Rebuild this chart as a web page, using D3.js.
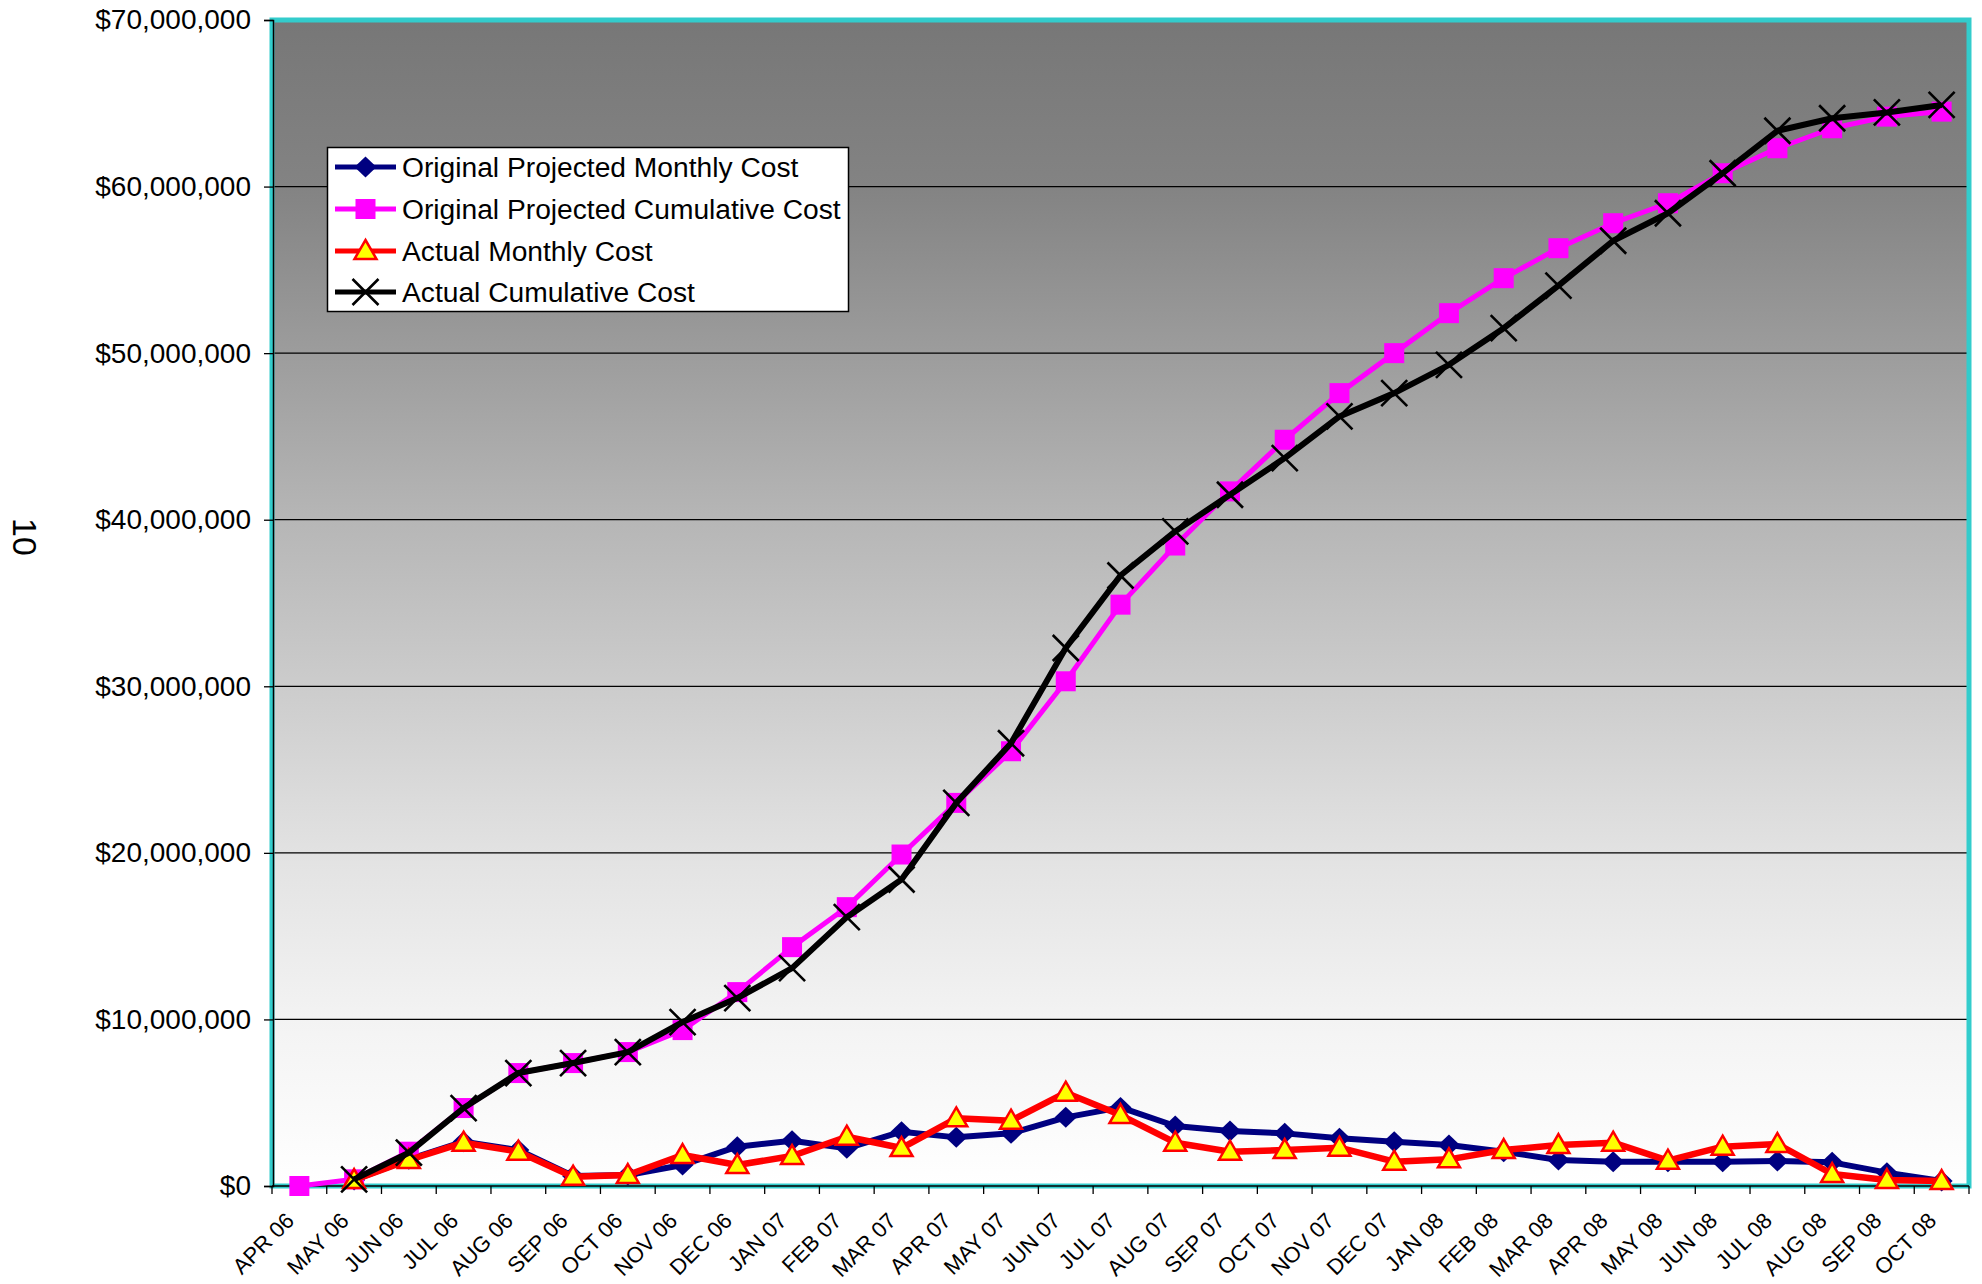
<!DOCTYPE html>
<html>
<head>
<meta charset="utf-8">
<script src="https://cdn.jsdelivr.net/npm/d3@7"></script>
<style>
  html, body { margin: 0; padding: 0; background: #ffffff; }
  svg { display: block; font-family: "Liberation Sans", Arial, Helvetica, sans-serif; }
</style>
</head>
<body>
<svg id="chart" width="1982" height="1284"></svg>
<script>
// ---- Data (values in US dollars, millions) ----
const months = ["APR 06","MAY 06","JUN 06","JUL 06","AUG 06","SEP 06","OCT 06","NOV 06","DEC 06",
  "JAN 07","FEB 07","MAR 07","APR 07","MAY 07","JUN 07","JUL 07","AUG 07","SEP 07","OCT 07","NOV 07","DEC 07",
  "JAN 08","FEB 08","MAR 08","APR 08","MAY 08","JUN 08","JUL 08","AUG 08","SEP 08","OCT 08"];

const projectedMonthly = [null, 0.36, 1.6, 2.66, 2.16, 0.6, 0.66, 1.26, 2.36, 2.72, 2.26, 3.26, 2.92, 3.16, 4.12,
  4.72, 3.6, 3.3, 3.16, 2.86, 2.66, 2.46, 2.06, 1.56, 1.46, 1.46, 1.46, 1.5, 1.42, 0.8, 0.3];

const projectedCumulative = [0, 0.4, 2.06, 4.68, 6.78, 7.38, 8.04, 9.36, 11.64, 14.34, 16.74, 19.9, 23.0, 26.1, 30.3,
  34.9, 38.45, 41.7, 44.8, 47.6, 50.0, 52.4, 54.5, 56.3, 57.8, 59.0, 60.8, 62.3, 63.5, 64.2, 64.5];

const actualMonthly = [null, 0.36, 1.56, 2.6, 2.06, 0.56, 0.66, 1.86, 1.26, 1.8, 2.96, 2.28, 4.06, 3.92, 5.6,
  4.26, 2.6, 2.06, 2.16, 2.3, 1.46, 1.6, 2.16, 2.46, 2.6, 1.52, 2.36, 2.52, 0.72, 0.36, 0.3];

const actualCumulative = [null, 0.4, 2.0, 4.68, 6.78, 7.38, 8.04, 9.84, 11.28, 13.08, 16.14, 18.4, 23.0, 26.58, 32.3,
  36.65, 39.3, 41.5, 43.7, 46.2, 47.6, 49.3, 51.5, 54.05, 56.75, 58.4, 60.8, 63.35, 64.1, 64.45, 64.9];

const yTickValues = [0, 10e6, 20e6, 30e6, 40e6, 50e6, 60e6, 70e6];
const seriesNames = ["Original Projected Monthly Cost", "Original Projected Cumulative Cost",
  "Actual Monthly Cost", "Actual Cumulative Cost"];
const sideLabel = "10";

// ---- Layout ----
const svg = d3.select("#chart");
const L = 272, R = 1969, T = 20, B = 1186;

const x = d3.scaleBand().domain(months).range([L, R]).padding(0);
const cx = m => x(m) + x.bandwidth() / 2;
const y = d3.scaleLinear().domain([0, 70e6]).range([B, T]);

const toSeries = arr => months.map((m, i) => ({ m, v: arr[i] == null ? null : arr[i] * 1e6 }));

// gradient background
const defs = svg.append("defs");
const grad = defs.append("linearGradient").attr("id", "bg").attr("x1", 0).attr("y1", 0).attr("x2", 0).attr("y2", 1);
[["0%", "#777777"], ["14.3%", "#838383"], ["42.9%", "#b6b6b6"], ["71.4%", "#e2e2e2"],
 ["85.7%", "#f3f3f3"], ["100%", "#ffffff"]].forEach(([o, c]) =>
  grad.append("stop").attr("offset", o).attr("stop-color", c));

svg.append("rect").attr("x", L).attr("y", T).attr("width", R - L).attr("height", B - T)
  .attr("fill", "url(#bg)");

// gridlines
svg.append("g").selectAll("line").data(yTickValues.filter(v => v > 0 && v < 70e6)).join("line")
  .attr("x1", L).attr("x2", R).attr("y1", d => y(d)).attr("y2", d => y(d))
  .attr("stroke", "#000").attr("stroke-width", 1.2);

// plot border (cyan)
svg.append("rect").attr("x", L).attr("y", T).attr("width", R - L).attr("height", B - T)
  .attr("fill", "none").attr("stroke", "#33CCCC").attr("stroke-width", 5);

// y axis
const yAxis = d3.axisLeft(y).tickValues(yTickValues).tickFormat(d3.format("$,")).tickSize(9).tickPadding(13);
const gy = svg.append("g").attr("transform", `translate(${L + 1},0)`).call(yAxis);
gy.select(".domain").attr("stroke", "#000").attr("stroke-width", 1.5);
gy.selectAll(".tick line").attr("stroke", "#000").attr("stroke-width", 1.3);
gy.selectAll(".tick text").attr("font-size", 28).attr("fill", "#000")
  .attr("font-family", "'Liberation Sans', Arial, sans-serif");

// x axis line and ticks at band boundaries
svg.append("line").attr("x1", L).attr("x2", R).attr("y1", B).attr("y2", B)
  .attr("stroke", "#000").attr("stroke-width", 1.5);
const boundaries = months.map(m => x(m)).concat([R]);
svg.append("g").selectAll("line").data(boundaries).join("line")
  .attr("x1", d => d).attr("x2", d => d).attr("y1", B).attr("y2", B + 8)
  .attr("stroke", "#000").attr("stroke-width", 1.3);

// x labels rotated
svg.append("g").selectAll("text").data(months).join("text")
  .attr("transform", d => `translate(${cx(d) - 4},${B + 36}) rotate(-45)`)
  .attr("text-anchor", "end")
  .attr("font-size", 22)
  .attr("fill", "#000")
  .text(d => d);

// side label
svg.append("text").attr("transform", "translate(25,537) rotate(90)")
  .attr("text-anchor", "middle").attr("dy", "0.35em").attr("font-size", 34).attr("fill", "#000")
  .text(sideLabel);

// ---- markers ----
function drawMarker(g, type) {
  if (type === "diamond") {
    g.append("path").attr("d", "M0,-10.5 L11,0 L0,10.5 L-11,0 Z").attr("fill", "#000080");
  } else if (type === "square") {
    g.append("rect").attr("x", -10).attr("y", -10).attr("width", 20).attr("height", 20).attr("fill", "#FF00FF");
  } else if (type === "triangle") {
    g.append("path").attr("d", "M0,-11 L11,8 L-11,8 Z").attr("fill", "#FFFF00")
      .attr("stroke", "#FF0000").attr("stroke-width", 2.5).attr("stroke-linejoin", "miter");
  } else if (type === "x") {
    g.append("path").attr("d", "M-13,-13 L13,13 M13,-13 L-13,13").attr("stroke", "#000")
      .attr("stroke-width", 2.6).attr("fill", "none");
  }
}

const seriesDefs = [
  { data: projectedMonthly, color: "#000080", width: 6, marker: "diamond" },
  { data: projectedCumulative, color: "#FF00FF", width: 5, marker: "square" },
  { data: actualMonthly, color: "#FF0000", width: 6.5, marker: "triangle" },
  { data: actualCumulative, color: "#000000", width: 6, marker: "x" }
];

const line = d3.line().defined(d => d.v != null).x(d => cx(d.m)).y(d => y(d.v));

seriesDefs.forEach(s => {
  const pts = toSeries(s.data);
  const g = svg.append("g");
  g.append("path").datum(pts).attr("d", line).attr("fill", "none")
    .attr("stroke", s.color).attr("stroke-width", s.width).attr("stroke-linejoin", "round");
  g.selectAll("g.mk").data(pts.filter(d => d.v != null)).join("g").attr("class", "mk")
    .attr("transform", d => `translate(${cx(d.m)},${y(d.v)})`)
    .each(function () { drawMarker(d3.select(this), s.marker); });
});

// ---- legend ----
const lg = svg.append("g");
lg.append("rect").attr("x", 327.5).attr("y", 147.5).attr("width", 521).attr("height", 164)
  .attr("fill", "#fff").attr("stroke", "#000").attr("stroke-width", 1.5);
const rowY = [167, 209, 251, 292];
seriesDefs.forEach((s, i) => {
  const ry = rowY[i];
  lg.append("line").attr("x1", 335).attr("x2", 396).attr("y1", ry).attr("y2", ry)
    .attr("stroke", s.color).attr("stroke-width", 5);
  const mg = lg.append("g").attr("transform", `translate(365.5,${ry})`);
  drawMarker(mg, s.marker);
  lg.append("text").attr("x", 402).attr("y", ry).attr("dy", "0.36em")
    .attr("font-size", 28.2).attr("fill", "#000").text(seriesNames[i]);
});
</script>
</body>
</html>
